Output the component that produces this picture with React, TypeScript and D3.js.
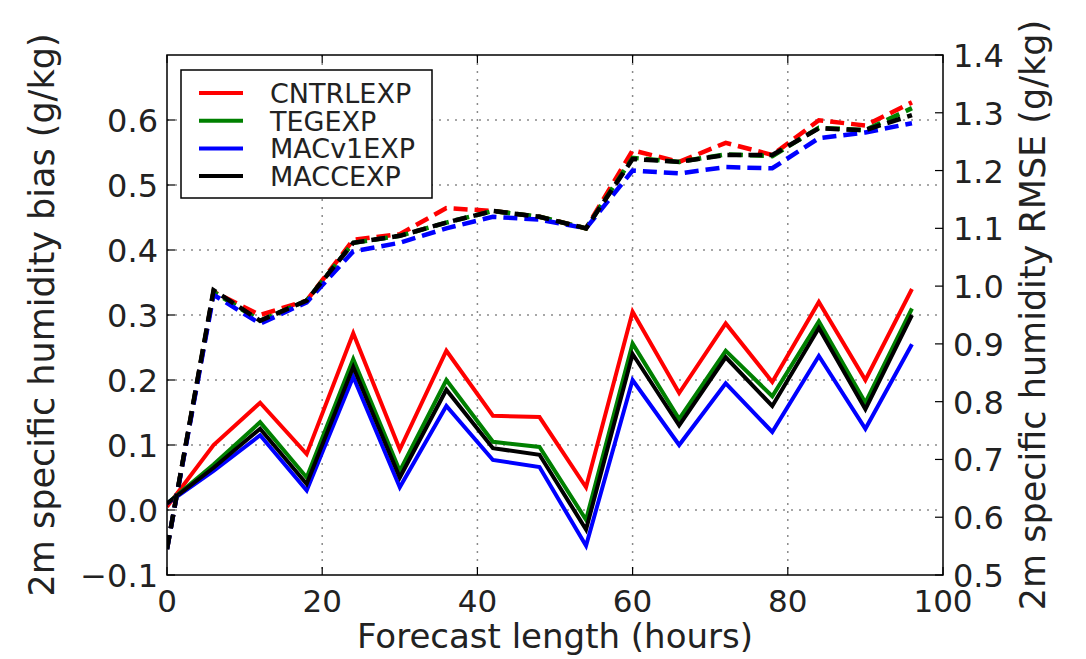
import React from "react";
import * as d3 from "d3";

const hours = [0, 6, 12, 18, 24, 30, 36, 42, 48, 54, 60, 66, 72, 78, 84, 90, 96];

// Bias (left axis, solid)
const biasCNTRL = [0.005, 0.1, 0.165, 0.086, 0.272, 0.093, 0.245, 0.145, 0.143, 0.035, 0.305, 0.18, 0.287, 0.197, 0.32, 0.2, 0.34];
const biasTEG = [0.01, 0.07, 0.135, 0.05, 0.232, 0.06, 0.2, 0.105, 0.097, -0.015, 0.256, 0.14, 0.245, 0.175, 0.29, 0.165, 0.31];
const biasMACv1 = [0.01, 0.06, 0.115, 0.03, 0.205, 0.035, 0.16, 0.077, 0.066, -0.055, 0.2, 0.1, 0.195, 0.12, 0.237, 0.125, 0.255];
const biasMACC = [0.01, 0.065, 0.125, 0.04, 0.22, 0.05, 0.185, 0.095, 0.085, -0.03, 0.24, 0.13, 0.235, 0.16, 0.28, 0.155, 0.3];

// RMSE (right axis, dashed)
const rmseCNTRL = [0.545, 0.99, 0.95, 0.975, 1.08, 1.09, 1.135, 1.13, 1.12, 1.1, 1.235, 1.215, 1.248, 1.227, 1.287, 1.278, 1.318];
const rmseTEG = [0.545, 0.99, 0.94, 0.975, 1.075, 1.087, 1.11, 1.13, 1.12, 1.1, 1.222, 1.215, 1.228, 1.225, 1.274, 1.27, 1.308];
const rmseMACv1 = [0.545, 0.985, 0.935, 0.972, 1.06, 1.075, 1.1, 1.12, 1.115, 1.1, 1.2, 1.195, 1.206, 1.204, 1.256, 1.266, 1.282];
const rmseMACC = [0.545, 0.993, 0.94, 0.975, 1.075, 1.087, 1.11, 1.13, 1.12, 1.1, 1.22, 1.215, 1.227, 1.227, 1.273, 1.27, 1.296];

const seriesNames = ["CNTRLEXP", "TEGEXP", "MACv1EXP", "MACCEXP"];
const seriesColors = ["#ff0000", "#008000", "#0000ff", "#000000"];
const biasSeries = [biasCNTRL, biasTEG, biasMACv1, biasMACC];
const rmseSeries = [rmseCNTRL, rmseTEG, rmseMACv1, rmseMACC];

const xTicks = [0, 20, 40, 60, 80, 100];
const leftTicks = [-0.1, 0.0, 0.1, 0.2, 0.3, 0.4, 0.5, 0.6];
const leftGrid = [0.0, 0.1, 0.2, 0.3, 0.4, 0.5, 0.6];
const rightTicks = [0.5, 0.6, 0.7, 0.8, 0.9, 1.0, 1.1, 1.2, 1.3, 1.4];

const W = 1086;
const H = 659;
const L = 167, R = 943, T = 55, B = 575;
const FONT = "'DejaVu Sans', sans-serif";

export default function App() {
  const x = d3.scaleLinear().domain([0, 100]).range([L, R]);
  const yL = d3.scaleLinear().domain([-0.1, 0.7]).range([B, T]);
  const yR = d3.scaleLinear().domain([0.5, 1.4]).range([B, T]);

  const lineL = d3.line<number>().x((_, i) => x(hours[i])).y((d) => yL(d));
  const lineR = d3.line<number>().x((_, i) => x(hours[i])).y((d) => yR(d));

  const fmt = (v: number) => {
    const s = v.toFixed(1);
    return v < 0 ? "\u2212" + s.slice(1) : s;
  };

  const tickLen = 8;

  return (
    <svg width={W} height={H} style={{ position: "absolute", left: 0, top: 0, background: "#fff" }}>
      <rect x={0} y={0} width={W} height={H} fill="#fff" />
      <defs>
        <clipPath id="plotclip">
          <rect x={L} y={T} width={R - L} height={B - T} />
        </clipPath>
      </defs>
      {/* grid */}
      {xTicks.filter((t) => t > 0 && t < 100).map((t) => (
        <line key={"gx" + t} x1={x(t)} x2={x(t)} y1={T} y2={B} stroke="#8a8a8a" strokeWidth={1.5} strokeDasharray="2,6" />
      ))}
      {leftGrid.map((t) => (
        <line key={"gy" + t} x1={L} x2={R} y1={yL(t)} y2={yL(t)} stroke="#8a8a8a" strokeWidth={1.5} strokeDasharray="2,6" />
      ))}
      <g clipPath="url(#plotclip)">
        {biasSeries.map((s, i) => (
          <path key={"b" + i} d={lineL(s) || ""} fill="none" stroke={seriesColors[i]} strokeWidth={4} strokeLinejoin="miter" />
        ))}
        {rmseSeries.map((s, i) => (
          <path key={"r" + i} d={lineR(s) || ""} fill="none" stroke={seriesColors[i]} strokeWidth={4.5} strokeDasharray="14,7" />
        ))}
      </g>
      {/* ticks */}
      {xTicks.map((t) => (
        <g key={"xt" + t}>
          <line x1={x(t)} x2={x(t)} y1={B} y2={B - tickLen} stroke="#000" strokeWidth={1.2} />
          <line x1={x(t)} x2={x(t)} y1={T} y2={T + tickLen} stroke="#000" strokeWidth={1.2} />
          <text x={x(t)} y={612} textAnchor="middle" fontFamily={FONT} fontSize={31} fill="#222">{t}</text>
        </g>
      ))}
      {leftTicks.map((t) => (
        <g key={"lt" + t}>
          <line x1={L} x2={L + tickLen} y1={yL(t)} y2={yL(t)} stroke="#000" strokeWidth={1.2} />
          <text x={158} y={yL(t) + 12} textAnchor="end" fontFamily={FONT} fontSize={32} fill="#222">{fmt(t)}</text>
        </g>
      ))}
      {rightTicks.map((t) => (
        <g key={"rt" + t}>
          <line x1={R} x2={R - tickLen} y1={yR(t)} y2={yR(t)} stroke="#000" strokeWidth={1.2} />
          <text x={953} y={yR(t) + 12} textAnchor="start" fontFamily={FONT} fontSize={32} fill="#222">{fmt(t)}</text>
        </g>
      ))}
      {/* frame */}
      <rect x={L} y={T} width={R - L} height={B - T} fill="none" stroke="#000" strokeWidth={1.5} />
      {/* axis labels */}
      <text x={(L + R) / 2} y={648} textAnchor="middle" fontFamily={FONT} fontSize={34} fill="#222">Forecast length (hours)</text>
      <text transform={`translate(54, ${(T + B) / 2}) rotate(-90)`} textAnchor="middle" fontFamily={FONT} fontSize={35} fill="#222">2m specific humidity bias (g/kg)</text>
      <text transform={`translate(1045, ${(T + B) / 2}) rotate(-90)`} textAnchor="middle" fontFamily={FONT} fontSize={35} fill="#222">2m specific humidity RMSE (g/kg)</text>
      {/* legend */}
      <rect x={181} y={70} width={251} height={128} fill="#fff" stroke="#000" strokeWidth={1.5} />
      {seriesNames.map((n, i) => (
        <g key={"lg" + n}>
          <line x1={199} x2={243} y1={93 + i * 27.7} y2={93 + i * 27.7} stroke={seriesColors[i]} strokeWidth={4} />
          <text x={270} y={93 + i * 27.7 + 10} fontFamily={FONT} fontSize={27} fill="#222">{n}</text>
        </g>
      ))}
    </svg>
  );
}
